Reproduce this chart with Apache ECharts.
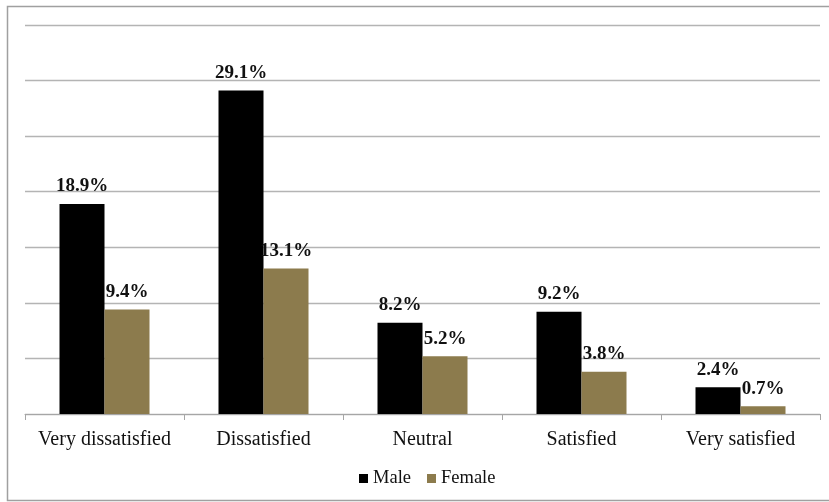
<!DOCTYPE html>
<html><head><meta charset="utf-8">
<script src="https://cdn.jsdelivr.net/npm/echarts@6/dist/echarts.min.js"></script>
<style>html,body{margin:0;padding:0;background:#fff}#c{width:829px;height:502px}</style>
</head><body><div id="c"></div>
<script>
const categories = ['Very dissatisfied','Dissatisfied','Neutral','Satisfied','Very satisfied'];
const male = [18.9, 29.1, 8.2, 9.2, 2.4];
const female = [9.4, 13.1, 5.2, 3.8, 0.7];
const seriesNames = ['Male','Female'];
const colors = ['#000000','#8c7b4d'];
const serif = '"Liberation Serif","Times New Roman",serif';
const chart = echarts.init(document.getElementById('c'));
const lbl = {show:true, position:'top', distance:8, fontFamily:serif, fontWeight:'bold', fontSize:19, color:'#111',
  formatter: p => p.value.toFixed(1) + '%'};
chart.setOption({
  animation:false,
  graphic:[{type:'rect', shape:{x:7.5,y:6.5,width:830,height:494}, style:{fill:'none', stroke:'#a0a0a0', lineWidth:1.5}, silent:true}],
  grid:{left:25, right:9, top:25, bottom:88},
  legend:{data:seriesNames, left:354, top:464, itemWidth:9, itemHeight:9, itemGap:16,
    icon:'rect', textStyle:{fontFamily:serif, fontSize:18.5, color:'#111'}},
  xAxis:{type:'category', data:categories,
    axisLine:{lineStyle:{color:'#a6a6a6', width:1}},
    axisTick:{show:true, interval:0, length:6, lineStyle:{color:'#a6a6a6'}},
    axisLabel:{interval:0, fontFamily:serif, fontSize:20, color:'#111', margin:16}},
  yAxis:{type:'value', min:0, max:35, interval:5,
    axisLabel:{show:false}, axisLine:{show:false}, axisTick:{show:false},
    splitLine:{lineStyle:{color:'#b4b4b4', width:1.3}}},
  series:[
    {name:seriesNames[0], type:'bar', data:male, barWidth:45, barGap:'0%', itemStyle:{color:colors[0]}, label:lbl},
    {name:seriesNames[1], type:'bar', data:female, barWidth:45, itemStyle:{color:colors[1]}, label:lbl}
  ]
});
</script></body></html>
